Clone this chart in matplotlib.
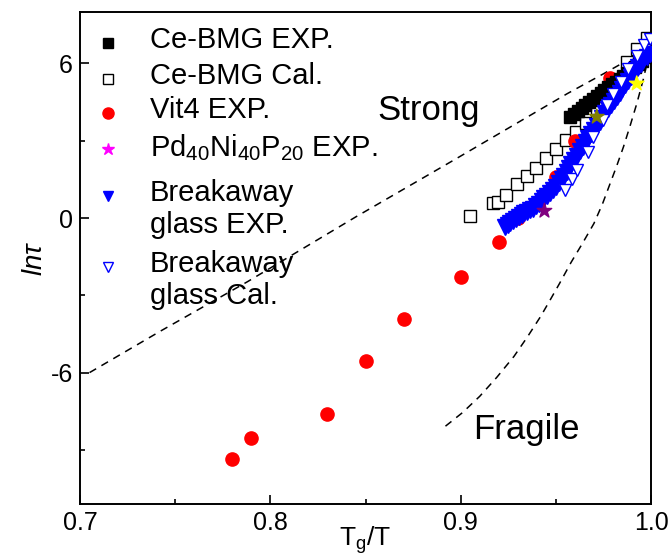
import numpy as np
import matplotlib.pyplot as plt
from matplotlib.ticker import MultipleLocator

plt.rcParams['font.family'] = ['Liberation Sans', 'DejaVu Sans']
plt.rcParams['mathtext.fontset'] = 'custom'
plt.rcParams['mathtext.rm'] = 'Liberation Sans'
plt.rcParams['mathtext.it'] = 'Liberation Sans:italic'
plt.rcParams['axes.unicode_minus'] = False


# Ce-BMG experimental (filled squares)
ce_exp_x = [0.9575, 0.9595, 0.9615, 0.9635, 0.9655, 0.9675, 0.9695, 0.9715, 0.9735, 0.9755,
            0.9775, 0.9795, 0.9815, 0.9835, 0.9855, 0.9875, 0.9895, 0.9915, 0.9935, 0.9955,
            0.9975, 0.999]
ce_exp_y = [3.93, 4.04, 4.16, 4.28, 4.40, 4.51, 4.63, 4.75, 4.86, 4.97,
            5.08, 5.19, 5.30, 5.41, 5.52, 5.63, 5.74, 5.86, 5.98, 6.10,
            6.24, 6.40]

# Ce-BMG calculated (open squares)
ce_cal_x = [0.905, 0.917, 0.9197, 0.924, 0.9295, 0.9347, 0.9396, 0.9449, 0.9501, 0.9554,
            0.9606, 0.9659, 0.9715, 0.9872, 0.9925, 0.998]
ce_cal_y = [0.08, 0.57, 0.63, 0.89, 1.31, 1.63, 1.95, 2.32, 2.67, 3.03,
            3.35, 3.70, 4.10, 6.07, 6.58, 6.98]

# Vit4 experimental
vit_x = [0.78, 0.79, 0.83, 0.85, 0.87, 0.90, 0.92, 0.93, 0.95, 0.96, 0.9785]
vit_y = [-9.36, -8.54, -7.61, -5.55, -3.92, -2.29, -0.93, 0.0, 1.59, 3.0, 5.45]

# Pd40Ni40P20 experimental
pd_x = [0.944, 0.9715, 0.9925]
pd_y = [0.28, 3.93, 5.22]
pd_colors = ['#800080', '#808000', '#ffff00']

# breakaway glass experimental (filled triangles)
bk_exp_x = [0.9233, 0.9248, 0.926, 0.9275, 0.929, 0.9305, 0.932, 0.9335, 0.935, 0.9365,
            0.9382, 0.9395, 0.941, 0.9425, 0.944, 0.9455, 0.947, 0.9485, 0.950, 0.9515,
            0.953, 0.9545, 0.9557, 0.957, 0.958, 0.9595, 0.961, 0.9627, 0.9645, 0.9658,
            0.967, 0.9685, 0.970, 0.9715, 0.9733, 0.9745, 0.976, 0.9775, 0.979, 0.9805,
            0.982, 0.9835, 0.985, 0.9865, 0.988, 0.9895, 0.9908, 0.992, 0.993, 0.9945,
            0.996, 0.998, 0.9995]
bk_exp_y = [-0.34, -0.26, -0.18, -0.10, -0.02, 0.06, 0.13, 0.19, 0.25, 0.31,
            0.37, 0.46, 0.55, 0.65, 0.76, 0.86, 0.96, 1.09, 1.22, 1.36,
            1.50, 1.65, 1.80, 1.95, 2.10, 2.26, 2.42, 2.60, 2.77, 2.94,
            3.10, 3.26, 3.42, 3.58, 3.74, 3.90, 4.07, 4.24, 4.40, 4.56,
            4.71, 4.87, 5.02, 5.17, 5.32, 5.47, 5.61, 5.74, 5.86, 5.99,
            6.12, 6.26, 6.38]

# breakaway glass calculated (open triangles)
bk_cal_x = [0.9549, 0.9585, 0.961, 0.967, 0.9697, 0.975, 0.9767, 0.980, 0.984, 0.988,
            0.9925, 0.9965, 0.9995]
bk_cal_y = [1.09, 1.50, 1.86, 2.58, 3.15, 3.80, 4.37, 4.80, 5.30, 5.80,
            6.30, 6.70, 6.95]

# guide curves
strong_x = [0.705, 0.742, 0.788, 0.845, 0.898, 0.956, 0.975, 0.989, 1.0]
strong_y = [-6.0, -4.4, -2.47, 0.05, 2.32, 4.83, 5.6, 6.18, 6.6]
fragile_x = [0.892, 0.901, 0.910, 0.919, 0.928, 0.935, 0.942, 0.947, 0.952, 0.958,
             0.964, 0.970, 0.9745, 0.9785, 0.982, 0.9855, 0.989, 0.9925, 0.996, 0.999]
fragile_y = [-8.08, -7.55, -6.92, -6.18, -5.37, -4.62, -3.82, -3.18, -2.53, -1.72,
             -0.98, -0.21, 0.55, 1.34, 2.03, 2.76, 3.58, 4.44, 5.40, 6.40]


fig = plt.figure(figsize=(6.68, 5.57), dpi=100)
ax = fig.add_axes([0.1198, 0.0952, 0.8548, 0.8833])

ax.plot(strong_x, strong_y, ls=(0, (5, 4)), color='black', lw=1.1, zorder=1)
ax.plot(fragile_x, fragile_y, ls=(0, (5, 4)), color='black', lw=1.1, zorder=1)

ax.plot(ce_cal_x, ce_cal_y, 's', ms=8, mfc='white', mec='black', mew=1.0, ls='none', zorder=2)
ax.plot(vit_x, vit_y, 'o', ms=9.5, color='red', ls='none', zorder=3)
ax.plot(ce_exp_x, ce_exp_y, 's', ms=9, color='black', ls='none', zorder=4)
ax.plot(bk_exp_x, bk_exp_y, 'v', ms=12, color='blue', ls='none', zorder=5)
ax.plot(bk_cal_x, bk_cal_y, 'v', ms=9, mfc='white', mec='blue', mew=1.0, ls='none', zorder=6)
ax.scatter(pd_x, pd_y, marker='*', s=120, c=pd_colors, zorder=7)

ax.text(0.856, 4.18, 'Strong', fontsize=25, va='center', ha='left')
ax.text(0.9065, -8.2, 'Fragile', fontsize=25, va='center', ha='left')

# hand-placed key in the upper left corner
key = [
    ('s', 'black', 'black', 'Ce-BMG EXP.', 43, 6.5),
    ('s', 'white', 'black', 'Ce-BMG Cal.', 79, 6.5),
    ('o', 'red', 'red', 'Vit4 EXP.', 113, 8),
    ('*', 'magenta', 'magenta', 'Pd$_{40}$Ni$_{40}$P$_{20}$ EXP.', 149, 9),
    ('v', 'blue', 'blue', 'Breakaway\nglass EXP.', 196, 7.5),
    ('v', 'white', 'blue', 'Breakaway\nglass Cal.', 267, 7.5),
]
for marker, face, edge, label, ypix, size in key:
    yf = 1 - (ypix - 12) / 492.0
    ax.plot([(108 - 80) / 571.0], [yf], marker=marker, ms=size,
            mfc=face, mec=edge, mew=1.0, transform=ax.transAxes, clip_on=False, zorder=8)
    ax.text((150 - 80) / 571.0, yf + 17 / 492.0, label, fontsize=21, va='top', ha='left',
            transform=ax.transAxes, linespacing=1.2)

ax.set_xlim(0.7, 1.0)
ax.set_ylim(-11.1, 8.0)
ax.xaxis.set_major_locator(MultipleLocator(0.1))
ax.xaxis.set_minor_locator(MultipleLocator(0.05))
ax.yaxis.set_major_locator(MultipleLocator(6))
ax.yaxis.set_minor_locator(MultipleLocator(3))
ax.xaxis.set_major_formatter(plt.FuncFormatter(lambda v, p: '{:.1f}'.format(v)))
ax.tick_params(which='major', direction='in', length=6.5, width=1.2, labelsize=18, pad=5)
ax.tick_params(which='minor', direction='in', length=3.5, width=1.2)
for spine in ax.spines.values():
    spine.set_linewidth(1.4)

ax.set_xlabel(r'T$_\mathrm{g}$/T', fontsize=19, labelpad=-8)
ax.set_ylabel(r'$ln\tau$', fontsize=20, labelpad=2)

fig.savefig('out.png', dpi=100)
